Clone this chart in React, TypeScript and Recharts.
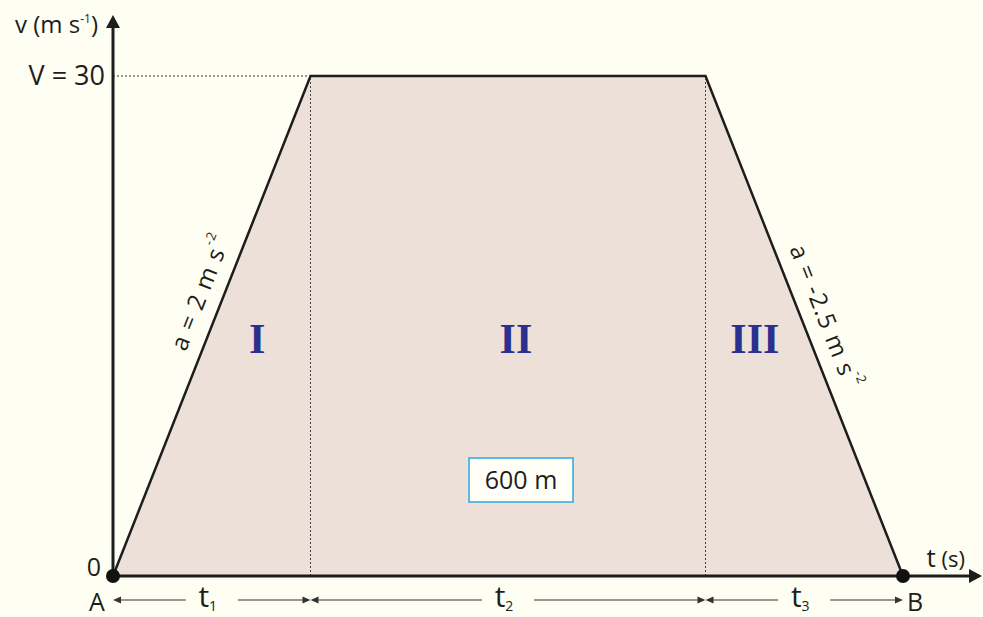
import React from "react";
import { ComposedChart, Area, XAxis, YAxis, ReferenceLine, ReferenceDot } from "recharts";

// velocity–time profile: speed up, cruise, brake (A -> B)
const times = [0, 10, 30, 40];
const speeds = [0, 30, 30, 0];
const V_MAX = 30;
const phaseNames = ["I", "II", "III"];
const spanSubs = ["1", "2", "3"];
const accelLabel = { a: "2", unit: "m s" };
const decelLabel = { a: "-2.5", unit: "m s" };
const distanceLabel = "600 m";

const data = times.map((t, i) => ({ t, v: speeds[i] }));

// layout helpers (plot units)
const X_MAX = 44;
const Y_MIN = -2.46;
const Y_MAX = 34.56;
const Y_ARROW = 33.66;
const SPAN_Y = -1.44;
const phaseX = [7.3, 20.4, 32.5];
const phaseY = 13.4;

const INK = "#1d1d1d";
const FONT = "'Open Sans', 'DejaVu Sans', sans-serif";
const BG = "#fefef2";

const AxisArrow = (p: any) => {
  const { x1, y1, x2, y2 } = p;
  const len = Math.hypot(x2 - x1, y2 - y1);
  const ux = (x2 - x1) / len;
  const uy = (y2 - y1) / len;
  const L = 13;
  const W = 7;
  const bx = x2 - ux * L;
  const by = y2 - uy * L;
  return (
    <g>
      <line x1={x1} y1={y1} x2={bx + ux} y2={by + uy} stroke={INK} strokeWidth={3} />
      <polygon
        points={`${x2},${y2} ${bx - uy * W},${by + ux * W} ${bx + uy * W},${by - ux * W}`}
        fill={INK}
      />
    </g>
  );
};

const SpanArrow = (sub: string) => (p: any) => {
  const { x1, y1, x2 } = p;
  const mid = (x1 + x2) / 2;
  const gap = 26;
  const h = 8;
  const w = 3.5;
  return (
    <g>
      <line x1={x1 + 2} y1={y1} x2={mid - gap} y2={y1} stroke="#333" strokeWidth={1.2} />
      <line x1={mid + gap} y1={y1} x2={x2 - 2} y2={y1} stroke="#333" strokeWidth={1.2} />
      <polygon points={`${x1},${y1} ${x1 + h},${y1 - w} ${x1 + h},${y1 + w}`} fill="#333" />
      <polygon points={`${x2},${y1} ${x2 - h},${y1 - w} ${x2 - h},${y1 + w}`} fill="#333" />
      <text x={mid - 4} y={y1 + 7} textAnchor="middle" fontFamily={FONT} fontSize={30} fill={INK}>
        t<tspan fontSize={14} dy={4}>{sub}</tspan>
      </text>
    </g>
  );
};

const SlopeLabel = (a: string, unit: string, along: number, offset: number) => (p: any) => {
  const { x1, y1, x2, y2 } = p;
  const len = Math.hypot(x2 - x1, y2 - y1);
  const ux = (x2 - x1) / len;
  const uy = (y2 - y1) / len;
  const nx = uy;
  const ny = -ux;
  const cx = (x1 + x2) / 2 + ux * along + nx * offset;
  const cy = (y1 + y2) / 2 + uy * along + ny * offset;
  const angle = (Math.atan2(uy, ux) * 180) / Math.PI;
  return (
    <text
      x={cx}
      y={cy}
      textAnchor="middle"
      dominantBaseline="central"
      transform={`rotate(${angle}, ${cx}, ${cy})`}
      fontFamily={FONT}
      fontSize={24}
      letterSpacing={1}
      fill={INK}
    >
      a = {a} {unit}
      <tspan fontSize={13} dy={-10}>-2</tspan>
    </text>
  );
};

const Note = (render: (x: number, y: number) => React.ReactNode) => (p: any) => (
  <g>{render(p.cx, p.cy)}</g>
);

export default function App() {
  return (
    <div style={{ position: "absolute", left: 0, top: 0, width: 983, height: 617, background: BG }}>
      <ComposedChart
        width={983}
        height={617}
        data={data}
        margin={{ top: 0, right: 1, bottom: 0, left: 113 }}
      >
        <XAxis dataKey="t" type="number" domain={[0, X_MAX]} hide />
        <YAxis type="number" domain={[Y_MIN, Y_MAX]} hide />

        <Area
          type="linear"
          dataKey="v"
          baseValue={0}
          fill="#ece0d8"
          fillOpacity={1}
          stroke={INK}
          strokeWidth={2.5}
          isAnimationActive={false}
        />

        {/* guide lines */}
        <ReferenceLine
          segment={[{ x: 0, y: V_MAX }, { x: times[1], y: V_MAX }]}
          stroke="#333"
          strokeWidth={1}
          strokeDasharray="2 2"
        />
        <ReferenceLine
          segment={[{ x: times[1], y: 0 }, { x: times[1], y: V_MAX }]}
          stroke="#444"
          strokeWidth={1}
          strokeDasharray="2 2"
        />
        <ReferenceLine
          segment={[{ x: times[2], y: 0 }, { x: times[2], y: V_MAX }]}
          stroke="#444"
          strokeWidth={1}
          strokeDasharray="2 2"
        />

        {/* axes with arrowheads */}
        <ReferenceLine segment={[{ x: 0, y: 0 }, { x: X_MAX, y: 0 }]} shape={AxisArrow} />
        <ReferenceLine segment={[{ x: 0, y: 0 }, { x: 0, y: Y_ARROW }]} shape={AxisArrow} />

        {/* slope annotations */}
        <ReferenceLine
          segment={[{ x: times[0], y: speeds[0] }, { x: times[1], y: speeds[1] }]}
          shape={SlopeLabel(accelLabel.a, accelLabel.unit, 27, 24)}
        />
        <ReferenceLine
          segment={[{ x: times[2], y: speeds[2] }, { x: times[3], y: speeds[3] }]}
          shape={SlopeLabel(decelLabel.a, decelLabel.unit, -1, 24)}
        />

        {/* t1, t2, t3 spans */}
        {spanSubs.map((s, i) => (
          <ReferenceLine
            key={s}
            segment={[{ x: times[i], y: SPAN_Y }, { x: times[i + 1], y: SPAN_Y }]}
            shape={SpanArrow(s)}
          />
        ))}

        {/* phase numerals */}
        {phaseNames.map((n, i) => (
          <ReferenceDot
            key={n}
            x={phaseX[i]}
            y={phaseY}
            shape={Note((x, y) => (
              <text
                x={x}
                y={y}
                textAnchor="middle"
                fontFamily="'Liberation Serif', serif"
                fontWeight="bold"
                fontSize={42}
                fill="#2b2f8e"
              >
                {n}
              </text>
            ))}
          />
        ))}

        {/* distance box */}
        <ReferenceDot
          x={20.66}
          y={5.76}
          shape={Note((x, y) => (
            <g>
              <rect x={x - 52} y={y - 22} width={104} height={44} fill="#fffff8" stroke="#2aa9e0" strokeWidth={1.5} />
              <text x={x} y={y + 9} textAnchor="middle" fontFamily={FONT} fontSize={25} fill={INK}>
                {distanceLabel}
              </text>
            </g>
          ))}
        />

        {/* axis texts */}
        <ReferenceDot
          x={0}
          y={V_MAX}
          shape={Note((x, y) => (
            <g fontFamily={FONT} fill={INK}>
              <text x={x - 8} y={y + 9} textAnchor="end" fontSize={27}>
                V = {V_MAX}
              </text>
              <text x={x - 15} y={y - 43} textAnchor="end" fontSize={24}>
                v (m s<tspan fontSize={12} dy={-10}>-1</tspan>
                <tspan dy={10}>)</tspan>
              </text>
            </g>
          ))}
        />
        <ReferenceDot
          x={0}
          y={0}
          shape={Note((x, y) => (
            <g fontFamily={FONT} fill={INK}>
              <text x={x - 19} y={y} textAnchor="middle" fontSize={25}>0</text>
              <circle cx={x} cy={y} r={7} fill="#111" />
            </g>
          ))}
        />
        <ReferenceDot
          x={0}
          y={SPAN_Y}
          shape={Note((x, y) => (
            <text x={x - 16} y={y + 11} textAnchor="middle" fontFamily={FONT} fontSize={25} fill={INK}>
              A
            </text>
          ))}
        />
        <ReferenceDot
          x={times[3]}
          y={0}
          shape={Note((x, y) => <circle cx={x} cy={y} r={7} fill="#111" />)}
        />
        <ReferenceDot
          x={times[3]}
          y={SPAN_Y}
          shape={Note((x, y) => (
            <text x={x + 12} y={y + 11} textAnchor="middle" fontFamily={FONT} fontSize={25} fill={INK}>
              B
            </text>
          ))}
        />
        <ReferenceDot
          x={X_MAX}
          y={0}
          shape={Note((x, y) => (
            <text x={x - 17} y={y - 9} textAnchor="end" fontFamily={FONT} fontSize={22} fill={INK}>
              <tspan fontSize={26}>t</tspan> (s)
            </text>
          ))}
        />
      </ComposedChart>
    </div>
  );
}
